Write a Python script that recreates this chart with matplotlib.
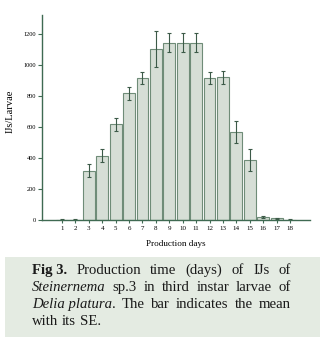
import matplotlib
matplotlib.use("Agg")
import matplotlib.pyplot as plt
from matplotlib.patches import Rectangle

# production day, mean IJs per larva, standard error
days = list(range(1, 19))
mean_ijs = [3, 3, 318, 415, 617, 817, 914, 1101, 1144, 1144, 1144, 914, 920, 568, 387, 19, 11, 3]
se_ijs = [3, 3, 43, 40, 44, 44, 38, 116, 61, 61, 61, 38, 44, 72, 69, 4, 3, 2]
y_ticks = [0, 200, 400, 600, 800, 1000, 1200]

caption_lines = [
    [("Fig 3.", "bold"), ("Production", "normal"), ("time", "normal"), ("(days)", "normal"),
     ("of", "normal"), ("IJs", "normal"), ("of", "normal")],
    [("Steinernema", "italic"), ("sp.3", "normal"), ("in", "normal"), ("third", "normal"),
     ("instar", "normal"), ("larvae", "normal"), ("of", "normal")],
    [("Delia platura", "italic"), (".", "normal_tight"), ("The", "normal"), ("bar", "normal"),
     ("indicates", "normal"), ("the", "normal"), ("mean", "normal")],
    [("with", "normal"), ("its", "normal"), ("SE.", "normal")],
]

axis_col = "#3f6a52"
fill_col = "#d6ded6"
edge_col = "#6f8c78"
err_col = "#3c5a48"
serif = "Liberation Serif"

fig = plt.figure(figsize=(3.2, 3.38), dpi=100)
ax = fig.add_axes([0.131, 0.349, 0.838, 0.607])

ax.bar(days, mean_ijs, width=0.88, color=fill_col, edgecolor=edge_col, linewidth=0.8,
       yerr=se_ijs, error_kw=dict(ecolor=err_col, elinewidth=0.8, capsize=1.5, capthick=0.8))

ax.set_xlim(-0.49, 19.49)
ax.set_ylim(0, 1323)
ax.set_yticks(y_ticks)
ax.set_xticks(days)
ax.set_xticklabels([str(d) for d in days], fontsize=5, family=serif)
ax.set_yticklabels([str(v) for v in y_ticks], fontsize=4.6, family=serif)
ax.tick_params(axis="y", length=3, width=0.8, color=axis_col, pad=1)
ax.tick_params(axis="x", length=2, width=0.8, color=axis_col, pad=2)

for side in ["top", "right"]:
    ax.spines[side].set_visible(False)
for side in ["left", "bottom"]:
    ax.spines[side].set_color(axis_col)
    ax.spines[side].set_linewidth(1.0)

ax.set_ylabel("IJs/Larvae", fontsize=7.6, family=serif)
ax.yaxis.set_label_coords(-0.1, 0.53)
ax.set_xlabel("Production days", fontsize=6.6, family=serif, labelpad=7)

# caption box
fig.patches.append(Rectangle((5 / 320, 1 / 338), 315 / 320, 80 / 338, transform=fig.transFigure,
                             facecolor="#e4ebe2", edgecolor="none", zorder=0))

renderer = fig.canvas.get_renderer()
x_left, x_right = 32 / 320, 291 / 320
line_y = [274, 291, 308, 325]
fs = 10.6
space_w = None
for i, line in enumerate(caption_lines):
    y = 1 - line_y[i] / 338
    texts = []
    for word, style in line:
        kw = dict(fontsize=fs, family=serif, va="baseline", ha="left", color="#1a1a1a")
        if style == "bold":
            kw["fontweight"] = "bold"
        if style == "italic":
            kw["fontstyle"] = "italic"
        t = fig.text(0, y, word, **kw)
        texts.append((t, style))
    widths = [t.get_window_extent(renderer).width / fig.bbox.width for t, _ in texts]
    if space_w is None:
        probe = fig.text(0, 0, "a a", fontsize=fs, family=serif)
        probe2 = fig.text(0, 0, "aa", fontsize=fs, family=serif)
        space_w = (probe.get_window_extent(renderer).width - probe2.get_window_extent(renderer).width) / fig.bbox.width
        probe.remove()
        probe2.remove()
    n_gaps = sum(1 for t, s in texts[1:] if s != "normal_tight")
    if i < len(caption_lines) - 1:
        gap = (x_right - x_left - sum(widths)) / n_gaps
    else:
        gap = space_w
    x = x_left
    for (t, style), w in zip(texts, widths):
        if t is not texts[0][0] and style != "normal_tight":
            x += gap
        t.set_x(x)
        x += w

fig.savefig("out.png", dpi=100)
